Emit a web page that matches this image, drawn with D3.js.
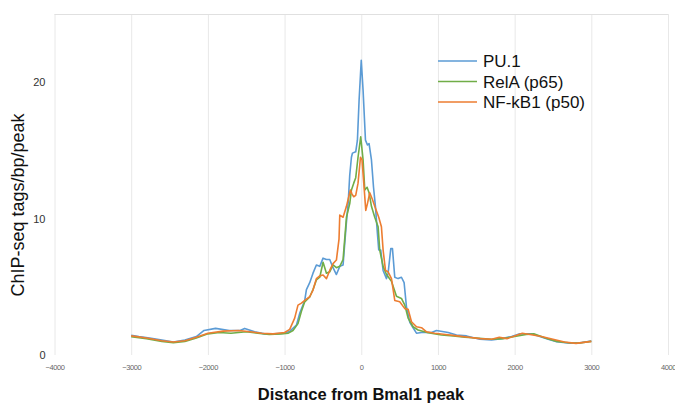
<!DOCTYPE html>
<html>
<head>
<meta charset="utf-8">
<script src="https://cdn.jsdelivr.net/npm/d3@7"></script>
<style>
  body { margin: 0; background: #fff; }
  svg { font-family: "Liberation Sans", Arial, sans-serif; }
</style>
</head>
<body>
<div id="chart"></div>
<script>
// Chart data (bp from peak, tags/bp/peak)
var seriesNames = ["PU.1", "RelA (p65)", "NF-kB1 (p50)"];
var seriesColors = ["#5B9BD5", "#70AD47", "#ED7D31"];
var xTicks = [-4000, -3000, -2000, -1000, 0, 1000, 2000, 3000, 4000];
var yTicks = [0, 10, 20];

var puPos = [-3000, -2900, -2760, -2600, -2450, -2300, -2150, -2050, -1900, -1720, -1580, -1520, -1390, -1260, -1130, -1000, -930, -845, -800, -737, -715, -672, -629, -585, -541, -498, -454, -411, -368, -324, -280, -237, -215, -195, -170, -150, -128, -115, -72, -50, -28, 0, 24, 55, 81, 102, 133, 160, 185, 211, 228, 254, 285, 329, 350, 385, 407, 437, 480, 524, 559, 590, 633, 676, 720, 786, 916, 981, 1133, 1242, 1373, 1546, 1699, 1830, 1960, 2068, 2221, 2329, 2438, 2547, 2721, 2851, 3000];
var puVal = [1.45, 1.35, 1.25, 1.1, 0.95, 1.1, 1.35, 1.8, 1.95, 1.8, 1.8, 1.95, 1.7, 1.55, 1.55, 1.6, 1.75, 2.2, 3.1, 4.0, 4.8, 5.3, 6.0, 6.6, 6.5, 7.1, 7.0, 7.0, 6.4, 5.9, 6.5, 6.6, 8.2, 9.6, 11.2, 13.2, 14.5, 14.8, 14.9, 15.75, 18.7, 21.6, 19.4, 15.75, 15.4, 15.5, 14.3, 12.3, 10.9, 8.9, 7.7, 7.7, 6.2, 5.6, 6.0, 7.8, 7.8, 5.7, 5.6, 5.7, 5.3, 3.5, 2.4, 2.0, 1.6, 1.65, 1.65, 1.8, 1.65, 1.47, 1.4, 1.15, 1.1, 1.2, 1.35, 1.55, 1.55, 1.35, 1.15, 0.98, 0.86, 0.9, 1.03];

var relPos = [-3000, -2800, -2600, -2450, -2300, -2150, -2000, -1850, -1700, -1500, -1350, -1200, -1050, -950, -890, -825, -780, -737, -672, -629, -585, -541, -498, -454, -411, -368, -324, -280, -237, -193, -150, -128, -98, -72, -42, -7, 24, 46, 76, 102, 133, 176, 220, 241, 285, 329, 394, 459, 524, 568, 611, 676, 741, 872, 1046, 1200, 1350, 1500, 1700, 1850, 2000, 2150, 2250, 2400, 2550, 2700, 2850, 3000];
var relVal = [1.35, 1.2, 1.0, 0.9, 1.0, 1.25, 1.55, 1.65, 1.6, 1.7, 1.6, 1.5, 1.55, 1.6, 1.8, 2.3, 3.2, 3.9, 4.25, 4.8, 5.5, 5.7, 6.8, 6.0, 6.1, 6.6, 6.4, 6.5, 7.0, 10.1, 11.1, 12.1, 12.6, 13.0, 14.5, 16.0, 14.3, 12.1, 12.3, 11.9, 10.9, 10.1, 9.4, 7.7, 6.5, 5.9, 5.4, 4.3, 4.15, 3.66, 2.7, 2.07, 1.83, 1.63, 1.47, 1.4, 1.3, 1.25, 1.15, 1.2, 1.35, 1.5, 1.55, 1.25, 1.0, 0.9, 0.88, 1.0];

var nfPos = [-3000, -2800, -2600, -2450, -2300, -2150, -2000, -1800, -1600, -1450, -1300, -1150, -1000, -933, -868, -825, -780, -737, -672, -629, -585, -541, -498, -454, -411, -368, -324, -290, -280, -237, -193, -141, -120, -98, -72, -42, -10, 10, 33, 59, 81, 111, 146, 176, 228, 263, 285, 316, 350, 394, 437, 502, 568, 611, 655, 720, 786, 851, 959, 1100, 1250, 1400, 1550, 1700, 1800, 1900, 2000, 2100, 2200, 2350, 2500, 2650, 2800, 3000];
var nfVal = [1.4, 1.25, 1.05, 0.95, 1.05, 1.3, 1.6, 1.75, 1.8, 1.7, 1.6, 1.55, 1.65, 1.88, 2.7, 3.66, 3.8, 4.0, 4.27, 4.76, 5.6, 5.8, 5.86, 5.6, 6.2, 6.7, 6.96, 8.5, 10.26, 10.1, 10.9, 12.1, 11.8, 11.6, 11.7, 12.6, 14.5, 14.3, 12.6, 10.6, 11.1, 11.9, 11.4, 10.9, 10.1, 9.4, 7.7, 6.2, 6.1, 5.6, 4.0, 3.9, 3.4, 3.35, 2.44, 2.07, 2.0, 1.7, 1.6, 1.5, 1.4, 1.3, 1.2, 1.15, 1.3, 1.2, 1.4, 1.6, 1.5, 1.35, 1.15, 0.95, 0.85, 1.0];

var svgWidth = 675;
var svgHeight = 403;

var margin = { top: 14, right: 7, bottom: 48, left: 54.5 };
var chartWidth = svgWidth - margin.left - margin.right;
var chartHeight = svgHeight - margin.top - margin.bottom;

var svg = d3.select("#chart")
  .append("svg")
  .attr("width", svgWidth)
  .attr("height", svgHeight);

var chartGroup = svg.append("g")
  .attr("transform", `translate(${margin.left}, ${margin.top})`);

var xLinearScale = d3.scaleLinear()
  .domain([-4000, 4000])
  .range([0, chartWidth]);

var yLinearScale = d3.scaleLinear()
  .domain([0, 25])
  .range([chartHeight, 0]);

// vertical gridlines
var grid = chartGroup.append("g")
  .attr("transform", `translate(0, ${chartHeight})`)
  .call(d3.axisBottom(xLinearScale).tickValues(xTicks).tickSize(-chartHeight).tickFormat(""));
grid.select(".domain").remove();
grid.selectAll("line").attr("stroke", "#e8e8e8");

// top border line
chartGroup.append("line")
  .attr("x1", 0).attr("x2", chartWidth)
  .attr("y1", 0.5).attr("y2", 0.5)
  .attr("stroke", "#e0e0e0");

// x axis tick labels
var xAxis = chartGroup.append("g")
  .attr("transform", `translate(0, ${chartHeight})`)
  .call(d3.axisBottom(xLinearScale).tickValues(xTicks).tickFormat(d3.format("d")).tickSize(0).tickPadding(10));
xAxis.select(".domain").remove();
xAxis.selectAll("text")
  .attr("fill", "#666")
  .attr("font-size", "7.5px")
  .attr("letter-spacing", "-0.4px")
  .attr("font-family", "'Liberation Sans Narrow', 'Liberation Sans', Arial, sans-serif");

// y axis tick labels
var yAxis = chartGroup.append("g")
  .call(d3.axisLeft(yLinearScale).tickValues(yTicks).tickSize(0).tickPadding(9));
yAxis.select(".domain").remove();
yAxis.selectAll("text")
  .attr("fill", "#333")
  .attr("font-size", "11px");

// lines
var allSeries = [
  puPos.map((p, i) => [p, puVal[i]]),
  relPos.map((p, i) => [p, relVal[i]]),
  nfPos.map((p, i) => [p, nfVal[i]])
];

var lineGen = d3.line()
  .x(d => xLinearScale(d[0]))
  .y(d => yLinearScale(d[1]))
  .curve(d3.curveLinear);

allSeries.forEach(function(s, i) {
  chartGroup.append("path")
    .datum(s)
    .attr("fill", "none")
    .attr("stroke", seriesColors[i])
    .attr("stroke-width", 1.6)
    .attr("stroke-linejoin", "round")
    .attr("d", lineGen);
});

// legend
var legend = svg.append("g")
  .attr("transform", "translate(438, 61)");
seriesNames.forEach(function(name, i) {
  legend.append("line")
    .attr("x1", 0).attr("x2", 39)
    .attr("y1", i * 20.5).attr("y2", i * 20.5)
    .attr("stroke", seriesColors[i])
    .attr("stroke-width", 1.6);
  legend.append("text")
    .attr("x", 45)
    .attr("y", i * 20.5 + 6)
    .attr("font-size", "17px")
    .attr("fill", "#111")
    .text(name);
});

// axis titles
svg.append("text")
  .attr("transform", "rotate(-90)")
  .attr("x", -205)
  .attr("y", 24)
  .attr("text-anchor", "middle")
  .attr("font-size", "18px")
  .attr("fill", "#111")
  .text("ChIP-seq tags/bp/peak");

svg.append("text")
  .attr("x", 361)
  .attr("y", 400)
  .attr("text-anchor", "middle")
  .attr("font-size", "16.5px")
  .attr("font-weight", "bold")
  .attr("fill", "#111")
  .text("Distance from Bmal1 peak");
</script>
</body>
</html>
